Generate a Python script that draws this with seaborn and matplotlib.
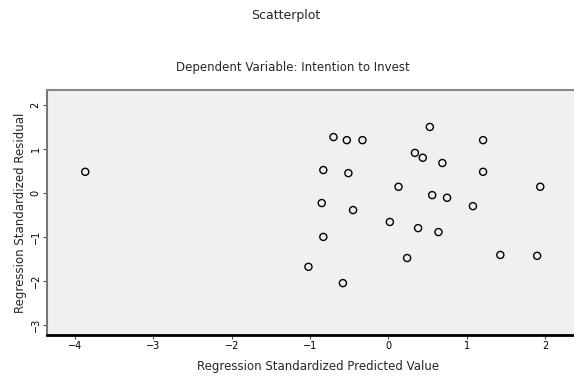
import matplotlib
matplotlib.use("Agg")
import matplotlib.pyplot as plt
import seaborn as sns
import pandas as pd

# standardized predicted values and residuals
predicted = [-3.87, 0.53, -0.70, -0.53, -0.33, 1.21, 0.34, 0.44, 0.69, -0.83,
             -0.51, 1.21, 0.13, 0.56, 0.75, 1.08, -0.85, -0.45, 0.02, 0.38,
             0.64, -0.83, 0.24, -1.02, -0.58, 1.43, 1.90, 1.94]
residual = [0.48, 1.50, 1.27, 1.20, 1.20, 1.20, 0.91, 0.80, 0.68, 0.52,
            0.45, 0.48, 0.14, -0.05, -0.11, -0.30, -0.23, -0.39, -0.66, -0.80,
            -0.89, -1.00, -1.48, -1.68, -2.05, -1.41, -1.43, 0.14]
x_ticks = [-4, -3, -2, -1, 0, 1, 2]
y_ticks = [-3, -2, -1, 0, 1, 2]

df = pd.DataFrame({"pred": predicted, "resid": residual})

sns.set_style("ticks")
plt.rcParams["font.family"] = ["DejaVu Sans"]

fig = plt.figure(figsize=(5.74, 3.77), dpi=100)
ax = fig.add_axes([47 / 574, 42 / 377, 543 / 574, 245 / 377])
ax.set_facecolor("#f0f0f0")

sns.scatterplot(data=df, x="pred", y="resid", ax=ax, marker="o", s=26,
                facecolors="none", edgecolor="black", linewidth=1.0)

ax.set_xlim(-4.358, 2.575)
ax.set_ylim(-3.23, 2.34)
ax.set_xticks(x_ticks)
ax.set_yticks(y_ticks)
ax.tick_params(axis="both", labelsize=7, length=3, width=0.8, color="#555555",
               pad=1.5, labelcolor="black")
for lab in ax.get_yticklabels():
    lab.set_rotation(90)
    lab.set_va("center")

ax.spines["top"].set_color("#888888")
ax.spines["top"].set_linewidth(1.5)
ax.spines["left"].set_color("#777777")
ax.spines["left"].set_linewidth(1.5)
ax.spines["bottom"].set_color("black")
ax.spines["bottom"].set_linewidth(2)
ax.spines["right"].set_visible(False)

ax.set_xlabel("Regression Standardized Predicted Value", fontsize=8.5, labelpad=6)
ax.set_ylabel("Regression Standardized Residual", fontsize=8.5, labelpad=3)

fig.text(0.497, 1 - 15 / 377, "Scatterplot", ha="center", va="center", fontsize=9)
fig.text(0.51, 1 - 67 / 377, "Dependent Variable: Intention to Invest",
         ha="center", va="center", fontsize=8.5)

fig.savefig("out.png", dpi=100)
